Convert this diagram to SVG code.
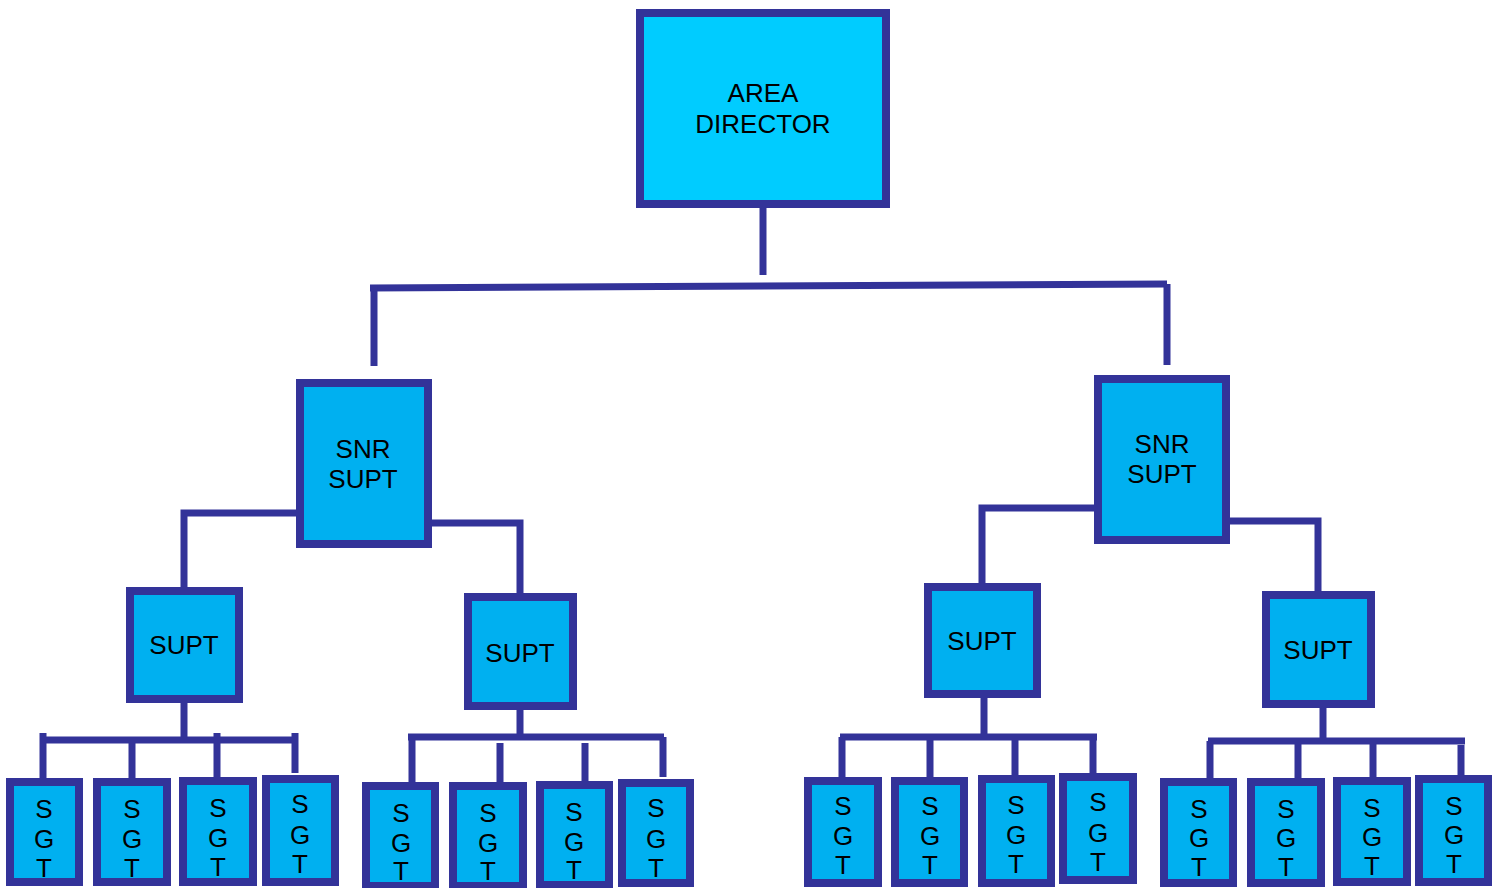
<svg xmlns="http://www.w3.org/2000/svg" width="1499" height="888" viewBox="0 0 1499 888">
<style>
.box{fill:#00B0F0;stroke:#333399;stroke-width:8}
.top{fill:#00CCFF;stroke:#333399;stroke-width:8}
.c{fill:none;stroke:#333399;stroke-width:7;stroke-linecap:butt}
text{font-family:"Liberation Sans",Arial,sans-serif;fill:#000;text-anchor:middle}
.t26{font-size:26px}
.t25{font-size:26px}
</style>
<rect width="1499" height="888" fill="#fff"/>
<g id="connectors">
<path class="c" d="M763 208V275"/>
<path class="c" d="M370 288L1167 284"/>
<path class="c" d="M374 286V366M1167 284V365"/>
<path class="c" d="M296 513H184V588"/>
<path class="c" d="M432 523H520V594"/>
<path class="c" d="M1094 508H982V585"/>
<path class="c" d="M1230 521H1318V593"/>
<path class="c" d="M184 703V740M40 740H298M43 733V778M132 740V787M217 733V778M295 733V773"/>
<path class="c" d="M520 710V737M408 737H664M412 737V782M500 743V791M585 743V782M663 737V777"/>
<path class="c" d="M984 698V737M840 737H1097M842 737V777M930 737V777M1015 737V775M1093 737V773"/>
<path class="c" d="M1323 708V741M1208 741H1465M1210 741V779M1298 741V787M1373 741V778M1461 745V785"/>
</g>
<g id="area-director">
<rect class="top" x="640" y="13" width="246" height="191"/>
<text class="t26" x="763" y="102">AREA</text>
<text class="t26" x="763" y="133">DIRECTOR</text>
</g>
<g id="snr-supt-left">
<rect class="box" x="300" y="383" width="128" height="161"/>
<text class="t26" x="363" y="458">SNR</text>
<text class="t26" x="363" y="488">SUPT</text>
</g>
<g id="snr-supt-right">
<rect class="box" x="1098" y="379" width="128" height="161"/>
<text class="t26" x="1162" y="453">SNR</text>
<text class="t26" x="1162" y="483">SUPT</text>
</g>
<g id="supt-1">
<rect class="box" x="130" y="591" width="109" height="108"/>
<text class="t26" x="184" y="654">SUPT</text>
</g>
<g id="supt-2">
<rect class="box" x="468" y="597" width="105" height="109"/>
<text class="t26" x="520" y="662">SUPT</text>
</g>
<g id="supt-3">
<rect class="box" x="928" y="587" width="109" height="107"/>
<text class="t26" x="982" y="650">SUPT</text>
</g>
<g id="supt-4">
<rect class="box" x="1266" y="595" width="105" height="109"/>
<text class="t26" x="1318" y="659">SUPT</text>
</g>
<g id="sgt-1-1"><rect class="box" x="10" y="782" width="69" height="100"/><text class="t25" x="44" y="818">S</text><text class="t25" x="44" y="848">G</text><text class="t25" x="44" y="877">T</text></g>
<g id="sgt-1-2"><rect class="box" x="97" y="782" width="70" height="100"/><text class="t25" x="132" y="818">S</text><text class="t25" x="132" y="848">G</text><text class="t25" x="132" y="877">T</text></g>
<g id="sgt-1-3"><rect class="box" x="183" y="781" width="70" height="101"/><text class="t25" x="218" y="817">S</text><text class="t25" x="218" y="847">G</text><text class="t25" x="218" y="876">T</text></g>
<g id="sgt-1-4"><rect class="box" x="266" y="779" width="69" height="103"/><text class="t25" x="300" y="813">S</text><text class="t25" x="300" y="844">G</text><text class="t25" x="300" y="873">T</text></g>
<g id="sgt-2-1"><rect class="box" x="366" y="786" width="69" height="100"/><text class="t25" x="401" y="822">S</text><text class="t25" x="401" y="852">G</text><text class="t25" x="401" y="880">T</text></g>
<g id="sgt-2-2"><rect class="box" x="453" y="786" width="70" height="100"/><text class="t25" x="488" y="822">S</text><text class="t25" x="488" y="852">G</text><text class="t25" x="488" y="880">T</text></g>
<g id="sgt-2-3"><rect class="box" x="540" y="785" width="69" height="100"/><text class="t25" x="574" y="821">S</text><text class="t25" x="574" y="851">G</text><text class="t25" x="574" y="879">T</text></g>
<g id="sgt-2-4"><rect class="box" x="622" y="783" width="68" height="100"/><text class="t25" x="656" y="817">S</text><text class="t25" x="656" y="848">G</text><text class="t25" x="656" y="877">T</text></g>
<g id="sgt-3-1"><rect class="box" x="808" y="781" width="70" height="102"/><text class="t25" x="843" y="815">S</text><text class="t25" x="843" y="845">G</text><text class="t25" x="843" y="874">T</text></g>
<g id="sgt-3-2"><rect class="box" x="895" y="781" width="69" height="102"/><text class="t25" x="930" y="815">S</text><text class="t25" x="930" y="845">G</text><text class="t25" x="930" y="874">T</text></g>
<g id="sgt-3-3"><rect class="box" x="982" y="779" width="69" height="104"/><text class="t25" x="1016" y="814">S</text><text class="t25" x="1016" y="844">G</text><text class="t25" x="1016" y="873">T</text></g>
<g id="sgt-3-4"><rect class="box" x="1063" y="777" width="70" height="103"/><text class="t25" x="1098" y="811">S</text><text class="t25" x="1098" y="842">G</text><text class="t25" x="1098" y="871">T</text></g>
<g id="sgt-4-1"><rect class="box" x="1164" y="782" width="69" height="101"/><text class="t25" x="1199" y="818">S</text><text class="t25" x="1199" y="847">G</text><text class="t25" x="1199" y="876">T</text></g>
<g id="sgt-4-2"><rect class="box" x="1251" y="782" width="70" height="101"/><text class="t25" x="1286" y="818">S</text><text class="t25" x="1286" y="847">G</text><text class="t25" x="1286" y="876">T</text></g>
<g id="sgt-4-3"><rect class="box" x="1337" y="781" width="70" height="101"/><text class="t25" x="1372" y="817">S</text><text class="t25" x="1372" y="846">G</text><text class="t25" x="1372" y="875">T</text></g>
<g id="sgt-4-4"><rect class="box" x="1419" y="779" width="69" height="103"/><text class="t25" x="1454" y="815">S</text><text class="t25" x="1454" y="844">G</text><text class="t25" x="1454" y="873">T</text></g>
</svg>
